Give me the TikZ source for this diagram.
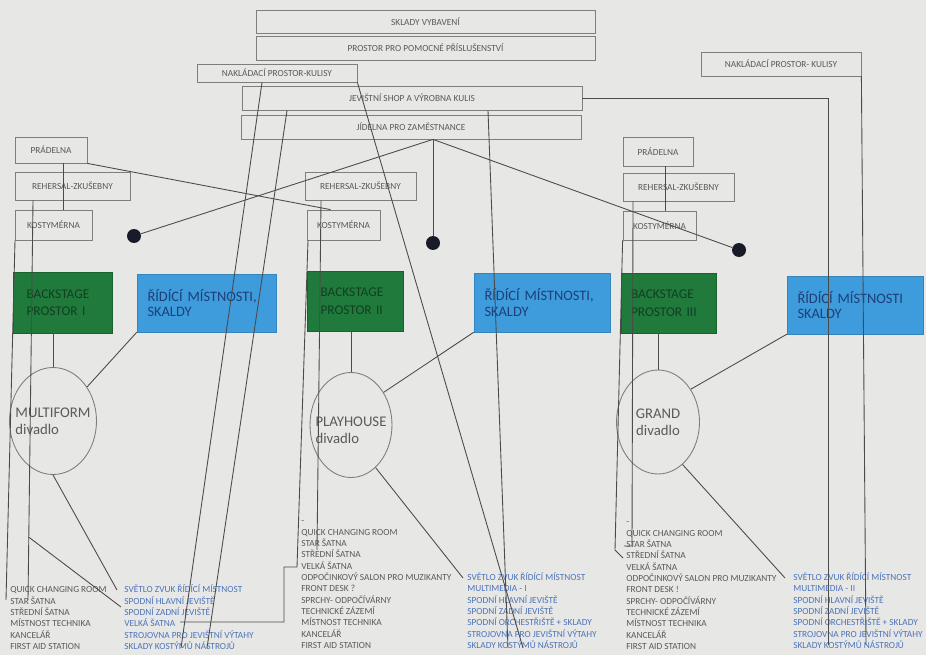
\documentclass[tikz,border=0pt]{standalone}
\usepackage{fontspec}
\setmainfont{Carlito}
\definecolor{paper}{HTML}{E7E7E5}
\definecolor{wiregray}{HTML}{4B4B4B}
\definecolor{boxgray}{HTML}{7E7E7E}
\definecolor{inkgray}{HTML}{5A5A5A}
\definecolor{stagegreen}{HTML}{1F7A3C}
\definecolor{stagegreentext}{HTML}{123F20}
\definecolor{roomblue}{HTML}{3E9BDC}
\definecolor{roombluetext}{HTML}{1E3F78}
\definecolor{listblue}{HTML}{4C74BA}
\definecolor{dotnavy}{HTML}{1A1B28}
\usetikzlibrary{shapes.geometric,positioning,calc}

\newcommand{\roomfont}{\fontsize{5.3}{6.45}\selectfont}
\newcommand{\listfont}{\fontsize{5.3}{6.45}\selectfont}

\begin{document}
\begin{tikzpicture}[
  x=0.02cm, y=-0.02cm,
  room/.style={draw=boxgray, line width=0.45pt, inner sep=0pt, align=center, font=\roomfont, text=inkgray},
  backstage/.style={fill=stagegreen, draw=stagegreen!80!black, line width=0.3pt,
    inner xsep=0.27cm, inner ysep=0pt, align=left,
    font=\fontsize{7.6}{10}\selectfont, text=stagegreentext},
  control/.style={fill=roomblue, draw=roomblue!85!black, line width=0.3pt,
    inner xsep=0.21cm, inner ysep=0pt, align=left,
    font=\fontsize{8.2}{8.8}\selectfont, text=roombluetext},
  theatre/.style={ellipse, draw=boxgray, line width=0.5pt, inner sep=0pt},
  theatrename/.style={font=\fontsize{8.4}{9.6}\selectfont, text=inkgray, inner sep=0pt},
  hub/.style={circle, fill=dotnavy, inner sep=0pt, minimum size=0.28cm},
  roomlist/.style={anchor=base west, inner sep=0pt, align=left, font=\listfont, text=inkgray},
  techlist/.style={roomlist, text=listblue},
  wire/.style={draw=wiregray, line width=0.5pt}
]
  \useasboundingbox (0,0) rectangle (926,655);
  \fill[paper] (0,0) rectangle (926,655);

  % Shared rooms on top
  \node[room, minimum width=6.78cm, minimum height=0.46cm] (skl) at (425.5,21.5) {SKLADY VYBAVENÍ};
  \node[room, minimum width=6.78cm, minimum height=0.48cm] (pom) at (425.5,48) {PROSTOR PRO POMOCNÉ PŘÍSLUŠENSTVÍ};
  \node[room, minimum width=3.2cm, minimum height=0.36cm] (nakL) at (277,73) {NAKLÁDACÍ PROSTOR-KULISY};
  \node[room, minimum width=6.8cm, minimum height=0.48cm] (jev) at (412,98) {JEVIŠTNÍ SHOP A VÝROBNA KULIS};
  \node[room, minimum width=6.8cm, minimum height=0.48cm] (jid) at (411,127) {JÍDELNA PRO ZAMĚSTNANCE};
  \node[room, minimum width=3.2cm, minimum height=0.48cm] (nakR) at (781,64) {NAKLÁDACÍ PROSTOR- KULISY};

  % Side rooms per theatre
  \node[room, minimum width=1.44cm, minimum height=0.52cm] (praL) at (51,150) {PRÁDELNA};
  \node[room, minimum width=2.3cm, minimum height=0.56cm] (rehL) at (72.5,186) {REHERSAL-ZKUŠEBNY};
  \node[room, minimum width=1.54cm, minimum height=0.6cm] (kosL) at (53.5,225) {KOSTYMÉRNA};
  \node[room, minimum width=2.22cm, minimum height=0.56cm] (rehM) at (360.5,186) {REHERSAL-ZKUŠEBNY};
  \node[room, minimum width=1.46cm, minimum height=0.6cm] (kosM) at (343.5,225) {KOSTYMÉRNA};
  \node[room, minimum width=1.4cm, minimum height=0.58cm] (praR) at (658,151.5) {PRÁDELNA};
  \node[room, minimum width=2.22cm, minimum height=0.56cm] (rehR) at (678.5,187) {REHERSAL-ZKUŠEBNY};
  \node[room, minimum width=1.46cm, minimum height=0.58cm] (kosR) at (659.5,225.5) {KOSTYMÉRNA};

  % Hubs
  \node[hub] (dotL) at (134,236) {};
  \node[hub] (dotM) at (433,243) {};
  \node[hub] (dotR) at (739,250) {};

  % Backstage and control rooms
  \node[backstage, minimum height=1.22cm, text width=1.44cm] (gL) at (62.5,302.5) {BACKSTAGE\\PROSTOR I};
  \node[backstage, minimum height=1.2cm, text width=1.38cm] (gM) at (355,301) {BACKSTAGE\\PROSTOR II};
  \node[backstage, minimum height=1.2cm, text width=1.5cm, inner xsep=0.2cm] (gR) at (668.5,303) {BACKSTAGE\\PROSTOR III};
  \node[control, minimum height=1.16cm, text width=2.36cm] (bL) at (206.5,303) {ŘÍDÍCÍ MÍSTNOSTI,\\SKALDY};
  \node[control, minimum height=1.18cm, text width=2.3cm] (bM) at (542,302.5) {ŘÍDÍCÍ MÍSTNOSTI,\\SKALDY};
  \node[control, minimum height=1.16cm, text width=2.3cm] (bR) at (855,305) {ŘÍDÍCÍ MÍSTNOSTI\\SKALDY};

  % Theatres
  \node[theatre, minimum width=1.74cm, minimum height=2.14cm] (eL) at (53,421) {};
  \node[theatre, minimum width=1.64cm, minimum height=2.1cm] (eM) at (351,425) {};
  \node[theatre, minimum width=1.66cm, minimum height=2.08cm] (eR) at (658,422) {};
  \node[theatrename, align=left] (eLname) at (eL.center) {MULTIFORM\\divadlo};
  \node[theatrename, align=left] (eMname) at ([yshift=-0.1cm]eM.center) {PLAYHOUSE\\divadlo};
  \node[theatrename, align=center] (eRname) at (eR.center) {GRAND\\divadlo};

  % Room lists (placed by their last line)
  \node[roomlist] (listL) at (10,649.5) {QUICK CHANGING ROOM\\STAR ŠATNA\\STŘEDNÍ ŠATNA\\MÍSTNOST TECHNIKA\\KANCELÁŘ\\FIRST AID STATION};
  \node[techlist] (techL) at (124,649.5) {SVĚTLO ZVUK ŘÍDÍCÍ MÍSTNOST\\SPODNÍ HLAVNÍ JEVIŠTĚ\\SPODNÍ ZADNÍ JEVIŠTĚ\\VELKÁ ŠATNA\\STROJOVNA PRO JEVIŠTNÍ VÝTAHY\\SKLADY KOSTÝMŮ NÁSTROJŮ};
  \node[roomlist] (listM) at (301,648.5) {-\\QUICK CHANGING ROOM\\STAR ŠATNA\\STŘEDNÍ ŠATNA\\VELKÁ ŠATNA\\ODPOČINKOVÝ SALON PRO MUZIKANTY\\FRONT DESK ?\\SPRCHY- ODPOČÍVÁRNY\\TECHNICKÉ ZÁZEMÍ\\MÍSTNOST TECHNIKA\\KANCELÁŘ\\FIRST AID STATION};
  \node[techlist] (techM) at (467,648.5) {SVĚTLO ZVUK ŘÍDÍCÍ MÍSTNOST\\MULTIMEDIA - I\\SPODNÍ HLAVNÍ JEVIŠTĚ\\SPODNÍ ZADNÍ JEVIŠTĚ\\SPODNÍ ORCHESTŘIŠTĚ + SKLADY\\STROJOVNA PRO JEVIŠTNÍ VÝTAHY\\SKLADY KOSTÝMŮ NÁSTROJŮ};
  \node[roomlist] (listR) at (626,649.5) {-\\QUICK CHANGING ROOM\\STAR ŠATNA\\STŘEDNÍ ŠATNA\\VELKÁ ŠATNA\\ODPOČINKOVÝ SALON PRO MUZIKANTY\\FRONT DESK !\\SPRCHY- ODPOČÍVÁRNY\\TECHNICKÉ ZÁZEMÍ\\MÍSTNOST TECHNIKA\\KANCELÁŘ\\FIRST AID STATION};
  \node[techlist] (techR) at (793,648.5) {SVĚTLO ZVUK ŘÍDÍCÍ MÍSTNOST\\MULTIMEDIA - II\\SPODNÍ HLAVNÍ JEVIŠTĚ\\SPODNÍ ZADNÍ JEVIŠTĚ\\SPODNÍ ORCHESTŘIŠTĚ + SKLADY\\STROJOVNA PRO JEVIŠTNÍ VÝTAHY\\SKLADY KOSTÝMŮ NÁSTROJŮ};

  % Free line ends near the lists
  \coordinate (kL1) at (28.6,537);
  \coordinate (kL2) at (121,607);
  \coordinate (kL3) at (28,600);
  \coordinate (kL4) at (6,600);
  \coordinate (mR1) at (317,550);
  \coordinate (mK1) at (297,567);
  \coordinate (mK2) at (284,622);
  \coordinate (mK3) at (180,622);
  \coordinate (rR1) at (632,546);
  \coordinate (rR2) at (624,546);
  \coordinate (rK1) at (615,550);
  \coordinate (rK2) at (623,558);
  \coordinate (eLend) at (117,590);
  \coordinate (eMend) at (463,578);
  \coordinate (eRend) at (785,578);
  \coordinate (nakLend) at (181,648);
  \coordinate (jevLend) at (207,648);
  \coordinate (nakMend) at (523,648);
  \coordinate (jevMend) at (508,648);
  \coordinate (jevRend) at (828,645);
  \coordinate (nakRend) at (866,645);

  % Canteen to the hubs
  \draw[wire] (jid.south -| dotM) -- (dotL);
  \draw[wire] (jid.south -| dotM) -- (dotM);
  \draw[wire] (jid.south -| dotM) -- (dotR);

  % Laundry links
  \draw[wire] (praL.south east) -- ([xshift=-0.26cm]kosM.north);
  \draw[wire] ([xshift=0.24cm]praL.south) -- ++(0,47);
  \draw[wire] ([xshift=0.14cm]praR.south) -- ++(0,45);

  % Rehearsal and costume rooms down to the lists
  \draw[wire] ([xshift=-0.79cm]rehL.south) -- (kL3);
  \draw[wire] (kL1) -- (kL2);
  \draw[wire] ([xshift=-0.77cm]kosL.south) -- (kL4);
  \draw[wire] ([xshift=-0.79cm]rehM.south) -- (mR1);
  \draw[wire] ([xshift=-0.71cm]kosM.south) -- (mK1) -| (mK2) -- (mK3);
  \draw[wire] ([xshift=-0.91cm]rehR.south) -- (rR1) -- (rR2);
  \draw[wire] (kosR.south west) -- (rK1) -- (rK2);

  % Long service lines
  \draw[wire] ([xshift=-0.3cm]nakL.south) -- (nakLend);
  \draw[wire] ([xshift=-2.5cm]jev.south) -- (jevLend);
  \draw[wire] (nakL.south east) -- (nakMend);
  \draw[wire] ([xshift=1.52cm]jev.south) -- (jevMend);
  \draw[wire] (jev.east) -| (jevRend);
  \draw[wire] (nakR.south east) -- (nakRend);

  % Theatre links
  \draw[wire] (gL.south -| eL.north) -- (eL.north);
  \draw[wire] (gM.south -| eM.north) -- (eM.north);
  \draw[wire] (gR.south -| eR.north) -- (eR.north);
  \draw[wire] (bL.south west) -- (eL.45);
  \draw[wire] (bM.south west) -- (eM.45);
  \draw[wire] (bR.south west) -- (eR.45);
  \draw[wire] (eL.south) -- (eLend);
  \draw[wire] (eM.-60) -- (eMend);
  \draw[wire] (eR.-60) -- (eRend);
\end{tikzpicture}
\end{document}
